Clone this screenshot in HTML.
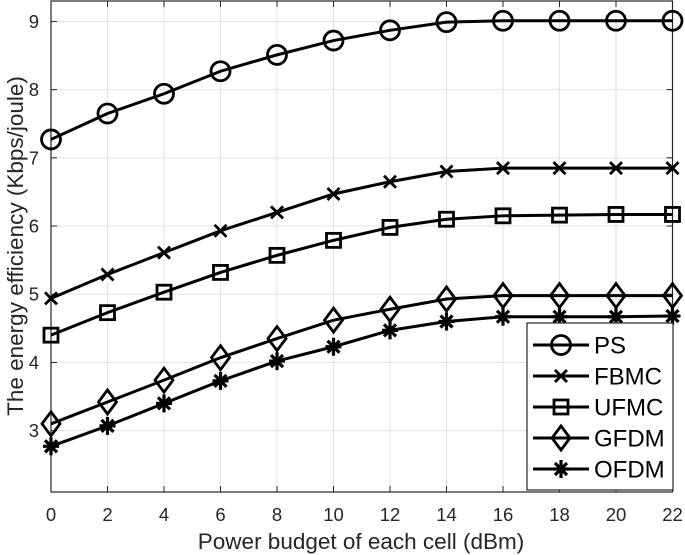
<!DOCTYPE html>
<html><head><meta charset="utf-8"><style>
html,body{margin:0;padding:0;background:#fff}
svg{display:block;font-family:"Liberation Sans",Arial,sans-serif}
</style></head><body>
<svg id="chart" width="685" height="555"></svg>
<script>
const xValues=[0,2,4,6,8,10,12,14,16,18,20,22];
const psValues=[7.27,7.65,7.94,8.27,8.51,8.72,8.87,8.99,9.01,9.01,9.01,9.01];
const fbmcValues=[4.94,5.29,5.61,5.93,6.2,6.47,6.65,6.8,6.85,6.85,6.85,6.85];
const ufmcValues=[4.4,4.73,5.03,5.32,5.57,5.79,5.98,6.1,6.15,6.16,6.17,6.17];
const gfdmValues=[3.1,3.42,3.74,4.07,4.35,4.62,4.78,4.93,4.98,4.98,4.98,4.98];
const ofdmValues=[2.77,3.07,3.4,3.73,4.02,4.23,4.47,4.6,4.67,4.67,4.67,4.68];
const xTicks=[0,2,4,6,8,10,12,14,16,18,20,22];
const yTicks=[3,4,5,6,7,8,9];
const seriesNames=["PS","FBMC","UFMC","GFDM","OFDM"];
const seriesMarkers=["circle","x","square","diamond","star"];

const NS="http://www.w3.org/2000/svg";
const svg=document.getElementById('chart');
const L=51,R=672.5,T=1,B=492,xMin=0,xMax=22,yMin=2.1,yMax=9.3;
function xs(v){return L+(v-xMin)/(xMax-xMin)*(R-L);}
function ys(v){return B-(v-yMin)/(yMax-yMin)*(B-T);}
function mk(tag,attrs,parent){const e=document.createElementNS(NS,tag);for(const k in attrs)e.setAttribute(k,attrs[k]);(parent||svg).appendChild(e);return e;}

const grid=mk('g',{});


xTicks.forEach(t=>{mk('line',{x1:xs(t),x2:xs(t),y1:T,y2:B,stroke:'#e3e3e3','stroke-width':1},grid);});
yTicks.forEach(t=>{mk('line',{x1:L,x2:R,y1:ys(t),y2:ys(t),stroke:'#e3e3e3','stroke-width':1},grid);});

const axes=mk('g',{});


mk('rect',{x:L,y:T,width:R-L,height:B-T,fill:'none',stroke:'#262626','stroke-width':1.2},axes);
xTicks.forEach(t=>{
  mk('line',{x1:xs(t),x2:xs(t),y1:B,y2:B-6,stroke:'#262626'},axes);
  mk('line',{x1:xs(t),x2:xs(t),y1:T,y2:T+6,stroke:'#262626'},axes);
  const tx=mk('text',{x:xs(t),y:B+29,'text-anchor':'middle','font-size':18.5,fill:'#262626'},axes);
  tx.textContent=t;
  
  
});
yTicks.forEach(t=>{
  mk('line',{x1:L,x2:L+6,y1:ys(t),y2:ys(t),stroke:'#262626'},axes);
  mk('line',{x1:R,x2:R-6,y1:ys(t),y2:ys(t),stroke:'#262626'},axes);
  const tx=mk('text',{x:L-12,y:ys(t)+6.5,'text-anchor':'end','font-size':18.5,fill:'#262626'},axes);
  tx.textContent=t;
  
  
});
const xl=mk('text',{x:361,y:549,'text-anchor':'middle','font-size':22.5,fill:'#262626'});
xl.textContent='Power budget of each cell (dBm)';


const yl=mk('text',{x:0,y:0,'text-anchor':'middle','font-size':22.5,fill:'#262626',transform:'translate(23,246) rotate(-90)'});
yl.textContent='The energy efficiency (Kbps/joule)';



function marker(type,x,y,g){
  const st={fill:'none',stroke:'#000','stroke-width':2.8};
  if(type==='circle')mk('circle',Object.assign({cx:x,cy:y,r:9.5},st),g);
  else if(type==='square')mk('rect',Object.assign({x:x-7,y:y-7,width:14,height:14},st),g);
  else if(type==='diamond')mk('path',Object.assign({d:`M${x} ${y-12}L${x+9} ${y}L${x} ${y+12}L${x-9} ${y}Z`},st),g);
  else if(type==='x'){mk('path',Object.assign({d:`M${x-6} ${y-6}L${x+6} ${y+6}M${x-6} ${y+6}L${x+6} ${y-6}`},st),g);}
  else if(type==='star'){mk('path',Object.assign({d:`M${x-8} ${y}L${x+8} ${y}M${x} ${y-9}L${x} ${y+9}M${x-6} ${y-6}L${x+6} ${y+6}M${x-6} ${y+6}L${x+6} ${y-6}`},st,{'stroke-width':3.2}),g);}
}
const allSeries=[psValues,fbmcValues,ufmcValues,gfdmValues,ofdmValues];
allSeries.forEach((vals,si)=>{
  const g=mk('g',{});
  
  
  mk('polyline',{points:vals.map((v,i)=>xs(xValues[i])+','+ys(v)).join(' '),fill:'none',stroke:'#000','stroke-width':3},g);
  vals.forEach((v,i)=>marker(seriesMarkers[si],xs(xValues[i]),ys(v),g));
});

const lg=mk('g',{});


mk('rect',{x:527,y:323,width:146,height:167,fill:'#fff',stroke:'#262626','stroke-width':1.2},lg);
seriesNames.forEach((n,i)=>{
  const y=345+i*31;
  const e=mk('g',{},lg);
  
  
  mk('line',{x1:533,x2:589,y1:y,y2:y,stroke:'#000','stroke-width':3},e);
  marker(seriesMarkers[i],561,y,e);
  const t=mk('text',{x:594,y:y+8.5,'font-size':24,fill:'#000'},e);
  t.textContent=n;
});
</script>
</body></html>
